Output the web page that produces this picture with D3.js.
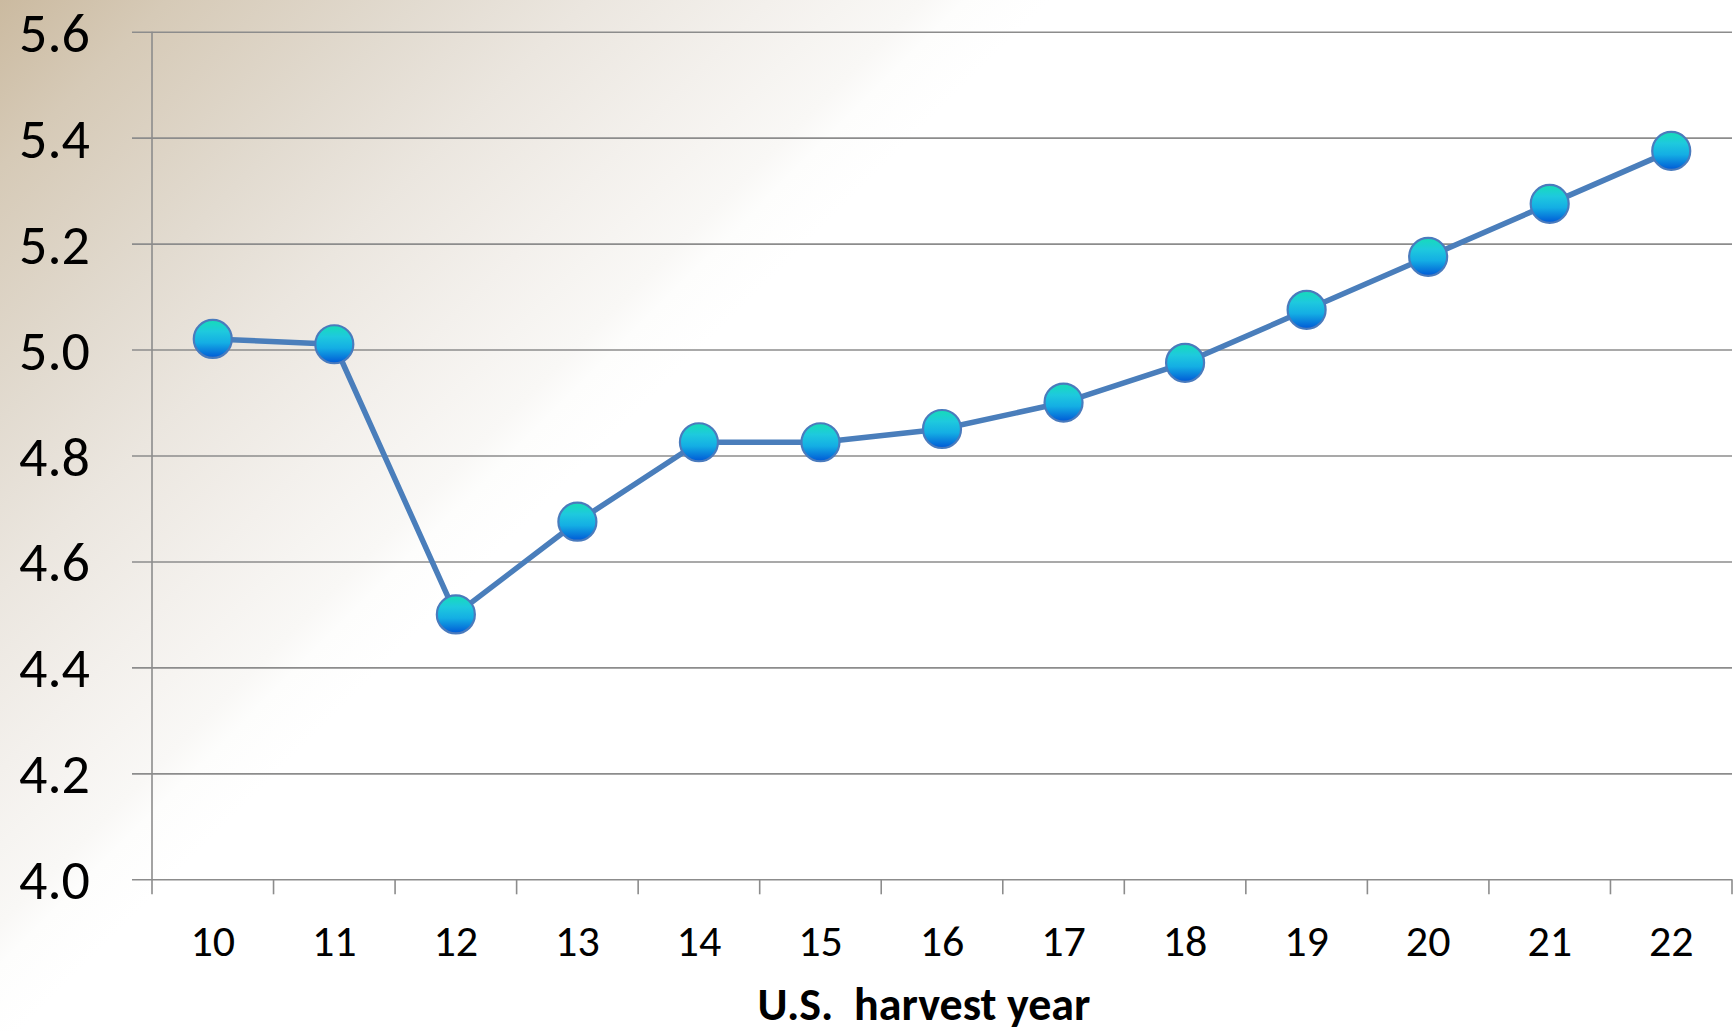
<!DOCTYPE html>
<html>
<head>
<meta charset="utf-8">
<script src="https://cdn.jsdelivr.net/npm/d3@7"></script>
<style>
  html, body { margin: 0; padding: 0; background: #fff; }
  svg { display: block; }
  text { font-family: Carlito, Lato, "Open Sans", sans-serif; fill: #000; }
</style>
</head>
<body>
<svg id="chart" width="1736" height="1031"></svg>
<script>
// Harvest years (two-digit labels) and the plotted series
const years = ["10", "11", "12", "13", "14", "15", "16", "17", "18", "19", "20", "21", "22"];
const values = [5.02, 5.01, 4.50, 4.675, 4.825, 4.825, 4.85, 4.90, 4.975, 5.075, 5.175, 5.275, 5.375];
const yTicks = [4.0, 4.2, 4.4, 4.6, 4.8, 5.0, 5.2, 5.4, 5.6];
const xTitle = "U.S.  harvest year";

const W = 1736, H = 1031;
const plot = { left: 152, right: 1732, top: 31.7, bottom: 879.3 };

const svg = d3.select("#chart");
const defs = svg.append("defs");

// Warm corner wash fading to white along the diagonal
const bg = defs.append("linearGradient")
  .attr("id", "bgGrad")
  .attr("gradientUnits", "userSpaceOnUse")
  .attr("x1", 0).attr("y1", 0).attr("x2", 700).attr("y2", 700);
[[0, "#cbbaa0"], [0.12, "#d6cab7"], [0.3, "#e2dbd0"], [0.42, "#ebe6df"], [0.55, "#f3f0ec"],
 [0.66, "#f9f8f6"], [0.69, "#fdfdfc"], [0.75, "#ffffff"], [1, "#ffffff"]]
  .forEach(([o, c]) => bg.append("stop").attr("offset", o).attr("stop-color", c));

// Marker fill: teal at the top to deep blue at the bottom
const mk = defs.append("linearGradient")
  .attr("id", "markerGrad")
  .attr("x1", 0).attr("y1", 0).attr("x2", 0).attr("y2", 1);
[[0, "#16dcb8"], [0.3, "#1ec9de"], [0.6, "#14aee4"], [1, "#0058d6"]]
  .forEach(([o, c]) => mk.append("stop").attr("offset", o).attr("stop-color", c));

svg.append("rect").attr("width", W).attr("height", H).attr("fill", "url(#bgGrad)");

const x = d3.scaleBand().domain(years).range([plot.left, plot.right]).padding(0);
const y = d3.scaleLinear().domain([4.0, 5.6]).range([plot.bottom, plot.top]);

// Horizontal gridlines with outward ticks on the left
const grid = svg.append("g")
  .attr("transform", `translate(${plot.right},0)`)
  .call(d3.axisLeft(y).tickValues(yTicks).tickSize(plot.right - plot.left + 20).tickFormat(""));
grid.select(".domain").remove();
grid.selectAll(".tick line").attr("stroke", "#8c8c8c").attr("stroke-width", 1.6);

// Y tick labels
svg.append("g").selectAll("text")
  .data(yTicks)
  .join("text")
  .attr("x", 90)
  .attr("y", d => y(d) + 20)
  .attr("text-anchor", "end")
  .attr("font-size", 56)
  .text(d => d3.format(".1f")(d));

// Vertical axis line
svg.append("line")
  .attr("x1", plot.left).attr("x2", plot.left)
  .attr("y1", plot.top).attr("y2", plot.bottom)
  .attr("stroke", "#8c8c8c").attr("stroke-width", 1.6);

// Category boundary ticks below the baseline
const boundaries = years.map(d => x(d)).concat([plot.right]);
svg.append("g").selectAll("line")
  .data(boundaries)
  .join("line")
  .attr("x1", d => d).attr("x2", d => d)
  .attr("y1", plot.bottom).attr("y2", plot.bottom + 15)
  .attr("stroke", "#8c8c8c").attr("stroke-width", 1.6);

// X tick labels
svg.append("g").selectAll("text")
  .data(years)
  .join("text")
  .attr("x", d => x(d) + x.bandwidth() / 2)
  .attr("y", 956)
  .attr("text-anchor", "middle")
  .attr("font-size", 44)
  .text(d => d);

// Axis title
svg.append("text")
  .attr("x", 924)
  .attr("y", 1020)
  .attr("text-anchor", "middle")
  .attr("font-size", 46)
  .attr("font-weight", "bold")
  .attr("xml:space", "preserve")
  .style("white-space", "pre")
  .text(xTitle);

const cx = (d, i) => x(years[i]) + x.bandwidth() / 2;

// Series line
svg.append("path")
  .datum(values)
  .attr("fill", "none")
  .attr("stroke", "#4a7ebb")
  .attr("stroke-width", 5.5)
  .attr("stroke-linejoin", "round")
  .attr("d", d3.line().x(cx).y(d => y(d)));

// Markers
svg.append("g").selectAll("circle")
  .data(values)
  .join("circle")
  .attr("cx", cx)
  .attr("cy", d => y(d))
  .attr("r", 19)
  .attr("fill", "url(#markerGrad)")
  .attr("stroke", "#4a7bbd")
  .attr("stroke-width", 2.2);
</script>
</body>
</html>
